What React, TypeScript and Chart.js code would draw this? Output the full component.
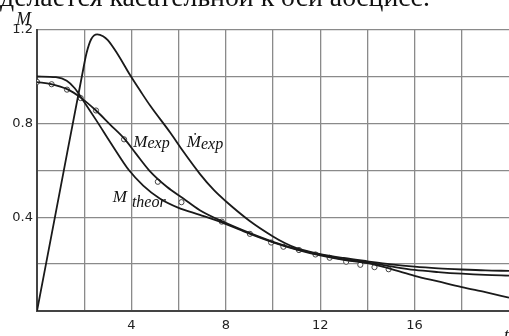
import React, { useEffect, useRef } from "react";
import { Chart, registerables } from "chart.js";
Chart.register(...registerables);

const W = 509;
const H = 336;

// Ṁ_exp curve
const mDotT = [0, 1, 1.9, 2.1, 2.3, 2.55, 2.8, 3.0, 3.4, 3.95, 4.4, 4.8, 5.65, 6.2, 6.9, 7.5, 8, 9, 10, 10.5, 11, 12, 13, 14, 15, 16, 17, 18, 19, 20];
const mDotV = [0, 0.527, 1.0, 1.1, 1.16, 1.18, 1.172, 1.155, 1.098, 1.005, 0.935, 0.875, 0.76, 0.68, 0.585, 0.515, 0.468, 0.385, 0.318, 0.29, 0.268, 0.243, 0.226, 0.212, 0.199, 0.189, 0.182, 0.177, 0.173, 0.171];

// M_exp fitted curve
const mExpT = [0, 0.6, 1.3, 1.85, 2.5, 3.1, 3.7, 4.2, 4.75, 5.5, 6.2, 6.9, 7.9, 9, 10, 11, 12, 13, 14, 15, 16, 17, 18, 19, 20];
const mExpV = [0.976, 0.968, 0.945, 0.91, 0.855, 0.795, 0.735, 0.67, 0.6, 0.53, 0.48, 0.43, 0.38, 0.333, 0.295, 0.264, 0.24, 0.22, 0.207, 0.19, 0.175, 0.166, 0.159, 0.154, 0.151];

// M_theor curve
const mTheorT = [0, 0.8, 1.26, 1.6, 1.85, 2.5, 3.2, 3.9, 4.5, 5.2, 6.0, 6.9, 7.9, 9, 10, 11, 12, 13, 14, 14.6, 15.2, 16, 17, 18, 19, 20];
const mTheorV = [1.0, 0.997, 0.982, 0.95, 0.914, 0.815, 0.705, 0.6, 0.535, 0.48, 0.44, 0.41, 0.375, 0.33, 0.293, 0.262, 0.237, 0.218, 0.204, 0.19, 0.173, 0.15, 0.126, 0.102, 0.08, 0.057];

// experimental points (circles)
const ptsT = [0, 0.62, 1.27, 1.85, 2.5, 3.69, 5.12, 6.12, 7.83, 9.02, 9.92, 10.44, 11.1, 11.8, 12.4, 13.1, 13.7, 14.3, 14.9];
const ptsV = [0.977, 0.967, 0.944, 0.908, 0.855, 0.732, 0.551, 0.464, 0.381, 0.329, 0.292, 0.274, 0.26, 0.241, 0.227, 0.21, 0.197, 0.187, 0.178];

const xGrid = [0, 2, 4, 6, 8, 10, 12, 14, 16, 18];
const xLabels = [4, 8, 12, 16];
const yGrid = [0, 0.2, 0.4, 0.6, 0.8, 1.0, 1.2];
const yLabels = [0.4, 0.8, 1.2];

const topText = "делается касательной к оси абсцисс.";

const SERIF = '"Liberation Serif", "DejaVu Serif", serif';

export default function App() {
  const ref = useRef<HTMLCanvasElement>(null);

  useEffect(() => {
    document.body.style.margin = "0";
    const toPts = (t: number[], v: number[]) => t.map((x, i) => ({ x, y: v[i] }));
    const curve = (data: any) => ({
      data,
      showLine: true,
      borderColor: "#1a1a1a",
      borderWidth: 1.8,
      pointRadius: 0,
      cubicInterpolationMode: "monotone" as const,
      fill: false,
    });

    const annot = {
      id: "annot",
      afterDraw(chart: any) {
        const ctx = chart.ctx;
        const xs = chart.scales.x;
        const ys = chart.scales.y;
        const px = (v: number) => xs.getPixelForValue(v);
        const py = (v: number) => ys.getPixelForValue(v);
        ctx.save();
        ctx.fillStyle = "#111";
        ctx.textBaseline = "alphabetic";
        ctx.textAlign = "left";

        // top (cut) line of text
        ctx.font = `26px ${SERIF}`;
        const w = ctx.measureText(topText).width;
        const fs = 26 * 430 / w;
        ctx.font = `${fs}px ${SERIF}`;
        ctx.fillText(topText, 0, 6);

        // axis titles
        ctx.font = `italic 18px ${SERIF}`;
        ctx.fillText("M", 16, 25);
        ctx.fillText("t", 504, 341);

        const drawLabel = (main: string, sub: string, x: number, y: number, gap: number, drop: number) => {
          ctx.font = `italic 17px ${SERIF}`;
          ctx.fillText(main, px(x), py(y));
          const mw = ctx.measureText(main).width;
          ctx.font = `italic 16px ${SERIF}`;
          ctx.fillText(sub, px(x) + mw + gap, py(y) + drop);
        };
        drawLabel("M", "exp", 4.08, 0.70, 0, 1);
        drawLabel("Ṁ", "exp", 6.35, 0.70, 0, 2);
        drawLabel("M", "theor", 3.21, 0.465, 5, 5);
        ctx.restore();
      },
    };

    const chart = new Chart(ref.current as HTMLCanvasElement, {
      type: "scatter",
      data: {
        datasets: [
          curve(toPts(mDotT, mDotV)),
          curve(toPts(mExpT, mExpV)),
          curve(toPts(mTheorT, mTheorV)),
          {
            data: toPts(ptsT, ptsV),
            showLine: false,
            pointRadius: 2.6,
            pointBorderWidth: 1,
            pointBorderColor: "#444",
            pointBackgroundColor: "#fff",
          },
        ],
      },
      options: {
        responsive: false,
        animation: false,
        devicePixelRatio: 1,
        layout: { autoPadding: false, padding: { top: 29.6, right: 0, left: 0, bottom: 0 } },
        plugins: { legend: { display: false }, tooltip: { enabled: false } },
        scales: {
          x: {
            type: "linear",
            min: 0,
            max: 20,
            afterBuildTicks: (s: any) => {
              s.ticks = xGrid.map((v) => ({ value: v }));
            },
            afterFit: (s: any) => {
              s.height = 25;
              s.paddingLeft = 0;
              s.paddingRight = 0;
            },
            grid: { color: "#8a8a8a", lineWidth: 1.3, drawTicks: false },
            border: { color: "#444", width: 2 },
            ticks: {
              autoSkip: false,
              maxRotation: 0,
              padding: 7,
              color: "#222",
              font: { family: '"DejaVu Sans", sans-serif', size: 13 },
              callback: (v: any) => (xLabels.includes(Number(v)) ? String(v) : ""),
            },
          },
          y: {
            type: "linear",
            min: 0,
            max: 1.2,
            afterBuildTicks: (s: any) => {
              s.ticks = yGrid.map((v) => ({ value: v }));
            },
            afterFit: (s: any) => {
              s.width = 37;
              s.paddingTop = 0;
              s.paddingBottom = 0;
            },
            grid: { color: "#8a8a8a", lineWidth: 1.3, drawTicks: false },
            border: { color: "#444", width: 2 },
            ticks: {
              autoSkip: false,
              padding: 4,
              color: "#222",
              font: { family: '"DejaVu Sans", sans-serif', size: 13 },
              callback: (v: any) =>
                yLabels.some((l) => Math.abs(l - Number(v)) < 1e-6) ? Number(v).toFixed(1) : "",
            },
          },
        },
      },
      plugins: [annot],
    } as any);
    return () => chart.destroy();
  }, []);

  return (
    <div style={{ width: W, height: H, position: "relative", background: "#fff", overflow: "hidden" }}>
      <canvas ref={ref} width={W} height={H} style={{ display: "block" }} />
    </div>
  );
}
